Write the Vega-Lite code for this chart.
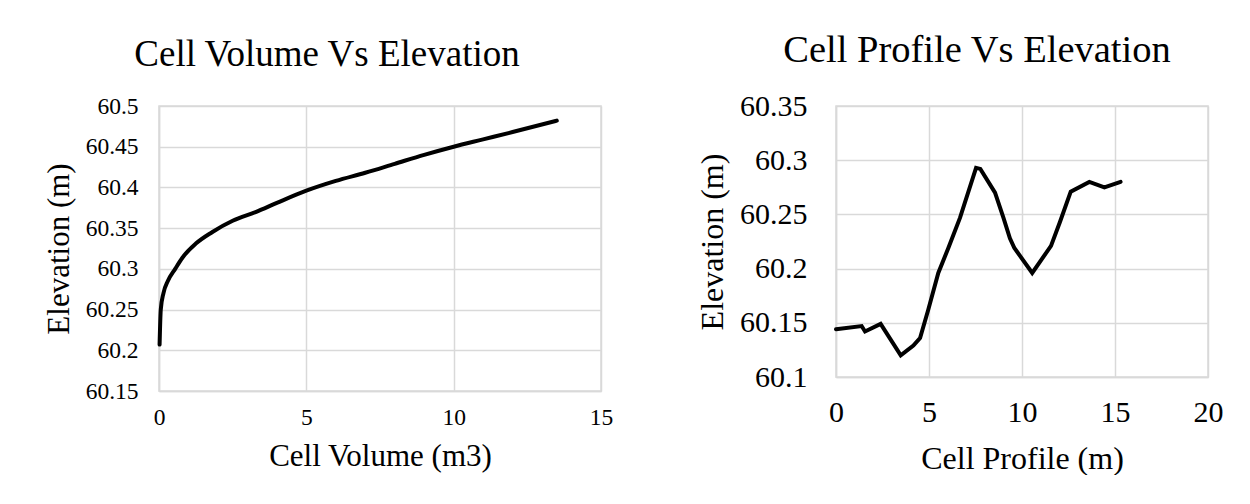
{
  "$schema": "https://vega.github.io/schema/vega-lite/v6.json",
  "background": "white",
  "padding": {"left": 42, "top": 29, "right": 0, "bottom": 0},
  "spacing": 81,
  "datasets": {
    "volume": [
      {"volume": 0.02, "elevation": 60.207},
      {"volume": 0.06, "elevation": 60.25},
      {"volume": 0.15, "elevation": 60.27},
      {"volume": 0.3, "elevation": 60.285},
      {"volume": 0.55, "elevation": 60.3},
      {"volume": 0.8, "elevation": 60.314},
      {"volume": 1.25, "elevation": 60.331},
      {"volume": 1.8, "elevation": 60.345},
      {"volume": 2.5, "elevation": 60.359},
      {"volume": 3.3, "elevation": 60.37},
      {"volume": 4.0, "elevation": 60.381},
      {"volume": 5.0, "elevation": 60.396},
      {"volume": 6.0, "elevation": 60.408},
      {"volume": 7.0, "elevation": 60.418},
      {"volume": 8.0, "elevation": 60.429},
      {"volume": 9.0, "elevation": 60.44},
      {"volume": 10.0, "elevation": 60.45},
      {"volume": 11.0, "elevation": 60.459},
      {"volume": 12.0, "elevation": 60.468},
      {"volume": 13.5, "elevation": 60.482}
    ],
    "profile": [
      {"distance": 0.0, "elevation": 60.144},
      {"distance": 1.38, "elevation": 60.147},
      {"distance": 1.56, "elevation": 60.142},
      {"distance": 2.4, "elevation": 60.149},
      {"distance": 3.48, "elevation": 60.12},
      {"distance": 4.16, "elevation": 60.129},
      {"distance": 4.52, "elevation": 60.136},
      {"distance": 4.96, "elevation": 60.162},
      {"distance": 5.5, "elevation": 60.196},
      {"distance": 6.04, "elevation": 60.219},
      {"distance": 6.67, "elevation": 60.247},
      {"distance": 7.53, "elevation": 60.293},
      {"distance": 7.76, "elevation": 60.292},
      {"distance": 8.55, "elevation": 60.27},
      {"distance": 9.0, "elevation": 60.247},
      {"distance": 9.35, "elevation": 60.228},
      {"distance": 9.59, "elevation": 60.219},
      {"distance": 10.55, "elevation": 60.196},
      {"distance": 11.56, "elevation": 60.221},
      {"distance": 12.04, "elevation": 60.243},
      {"distance": 12.62, "elevation": 60.271},
      {"distance": 13.62, "elevation": 60.28},
      {"distance": 14.43, "elevation": 60.275},
      {"distance": 15.3, "elevation": 60.28}
    ]
  },
  "config": {
    "font": "Times New Roman, Liberation Serif, serif",
    "view": {"stroke": "#d9d9d9", "strokeWidth": 1.5},
    "style": {
      "guide-label": {"font": "Times New Roman, Liberation Serif, serif", "fill": "#000000"},
      "guide-title": {"font": "Times New Roman, Liberation Serif, serif", "fill": "#000000"}
    },
    "axis": {
      "gridColor": "#d9d9d9",
      "gridWidth": 1.5,
      "domainColor": "#d9d9d9",
      "domainWidth": 1.5,
      "ticks": false,
      "labelFlush": false,
      "labelOverlap": false,
      "labelColor": "#000000",
      "titleColor": "#000000",
      "titleFontWeight": "normal",
      "labelFont": "Times New Roman, Liberation Serif, serif",
      "titleFont": "Times New Roman, Liberation Serif, serif"
    },
    "title": {"font": "Times New Roman, Liberation Serif, serif", "fontWeight": "normal", "color": "#000000", "anchor": "middle"}
  },
  "hconcat": [
    {
      "width": 442,
      "height": 285,
      "title": {"text": "Cell Volume Vs Elevation", "fontSize": 37, "offset": 20, "dx": -53},
      "data": {"name": "volume"},
      "mark": {"type": "line", "color": "#000000", "strokeWidth": 4, "interpolate": "monotone", "strokeCap": "round"},
      "encoding": {
        "x": {
          "field": "volume",
          "type": "quantitative",
          "scale": {"domain": [0, 15], "nice": false, "zero": false},
          "axis": {"values": [0, 5, 10, 15], "title": "Cell Volume (m3)", "labelFontSize": 23.5, "labelPadding": 14, "titleFontSize": 31, "titlePadding": 13}
        },
        "y": {
          "field": "elevation",
          "type": "quantitative",
          "scale": {"domain": [60.15, 60.5], "nice": false, "zero": false},
          "axis": {"values": [60.15, 60.2, 60.25, 60.3, 60.35, 60.4, 60.45, 60.5], "format": "~g", "title": "Elevation (m)", "labelFontSize": 23.5, "labelPadding": 21, "titleFontSize": 31, "titlePadding": 10}
        }
      }
    },
    {
      "width": 372,
      "height": 271,
      "title": {"text": "Cell Profile Vs Elevation", "fontSize": 38.5, "offset": 21, "dx": -45},
      "data": {"name": "profile"},
      "mark": {"type": "line", "color": "#000000", "strokeWidth": 4, "strokeCap": "round", "strokeJoin": "miter"},
      "encoding": {
        "x": {
          "field": "distance",
          "type": "quantitative",
          "scale": {"domain": [0, 20], "nice": false, "zero": false},
          "axis": {"values": [0, 5, 10, 15, 20], "title": "Cell Profile (m)", "labelFontSize": 30, "labelPadding": 20, "titleFontSize": 32, "titlePadding": 16}
        },
        "y": {
          "field": "elevation",
          "type": "quantitative",
          "scale": {"domain": [60.1, 60.35], "nice": false, "zero": false},
          "axis": {"values": [60.1, 60.15, 60.2, 60.25, 60.3, 60.35], "format": "~g", "title": "Elevation (m)", "labelFontSize": 30, "labelPadding": 29, "titleFontSize": 32, "titlePadding": 10}
        }
      }
    }
  ]
}
